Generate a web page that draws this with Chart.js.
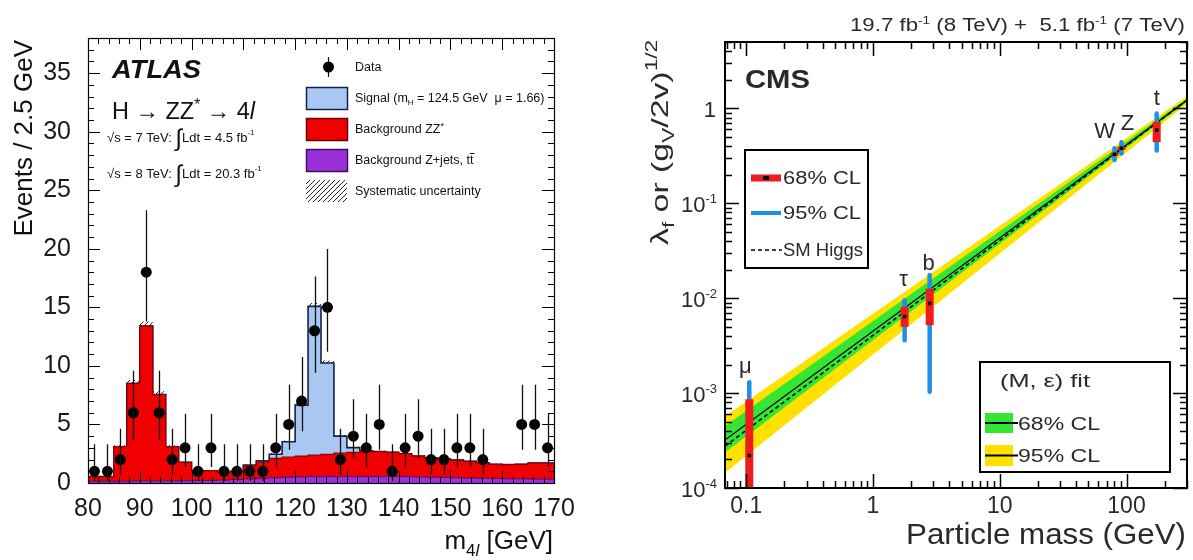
<!DOCTYPE html>
<html><head><meta charset="utf-8">
<script src="https://cdn.jsdelivr.net/npm/chart.js"></script>
<style>
html,body{margin:0;padding:0;background:#fff;width:1193px;height:560px;overflow:hidden;}
#l{position:absolute;left:0;top:0;width:600px;height:560px;}
#r{position:absolute;left:600px;top:0;width:593px;height:560px;}
canvas{display:block;}
</style></head><body>
<div id="l"><canvas id="cl" width="600" height="560"></canvas></div>
<div id="r"><canvas id="cr" width="593" height="560"></canvas></div>
<script>
const FONT = "'Liberation Sans', Arial, Helvetica, sans-serif";

// ================= LEFT PANEL DATA (ATLAS H -> ZZ* -> 4l) =================
const binLow = [80,82.5,85,87.5,90,92.5,95,97.5,100,102.5,105,107.5,110,112.5,115,117.5,120,122.5,125,127.5,130,132.5,135,137.5,140,142.5,145,147.5,150,152.5,155,157.5,160,162.5,165,167.5];
const binCenter = [81.25,83.75,86.25,88.75,91.25,93.75,96.25,98.75,101.25,103.75,106.25,108.75,111.25,113.75,116.25,118.75,121.25,123.75,126.25,128.75,131.25,133.75,136.25,138.75,141.25,143.75,146.25,148.75,151.25,153.75,156.25,158.75,161.25,163.75,166.25,168.75];
const massMax = 170;
const dataCounts = [1,1,2,6,18,6,2,3,1,3,1,1,1,1,3,5,7,13,15,2,4,3,5,1,3,4,2,2,3,3,2,null,null,5,5,3];
const dataLow  = [0.17,0.17,0.71,3.62,13.8,3.62,0.71,1.37,0.17,1.37,0.17,0.17,0.17,0.17,1.37,2.84,4.42,9.42,11.2,0.71,2.09,1.37,2.84,0.17,1.37,2.09,0.71,0.71,1.37,1.37,0.71,null,null,2.84,2.84,1.37];
const dataHigh = [3.3,3.3,4.64,9.58,23.3,9.58,4.64,5.92,3.3,5.92,3.3,3.3,3.3,3.3,5.92,8.38,10.77,17.64,19.99,4.64,7.16,5.92,8.38,3.3,5.92,7.16,4.64,4.64,5.92,5.92,4.64,null,null,8.38,8.38,5.92];
const bkgZjets = [0.15,0.15,0.15,0.17,0.18,0.18,0.18,0.2,0.2,0.22,0.25,0.3,0.35,0.4,0.45,0.5,0.52,0.55,0.55,0.55,0.55,0.55,0.55,0.55,0.55,0.52,0.5,0.48,0.45,0.42,0.4,0.38,0.36,0.35,0.34,0.33];
const bkgZZ = [0.40,0.40,2.95,8.33,13.22,7.37,2.92,1.57,0.85,0.83,0.65,0.70,1.13,1.37,1.65,1.72,1.78,1.83,1.90,2.00,2.07,2.11,2.13,2.07,1.95,1.78,1.65,1.57,1.50,1.43,1.32,1.22,1.21,1.25,1.36,1.37];
const signalH = [0,0,0,0,0,0,0,0,0,0,0,0,0.05,0.12,0.35,1.3,4.35,12.7,7.8,1.45,0.4,0.1,0,0,0,0,0,0,0,0,0,0,0,0,0,0];
const systUnc = [0.03,0.03,0.12,0.3,0.4,0.28,0.12,0.07,0.05,0.05,0.04,0.05,0.06,0.07,0.08,0.1,0.15,0.3,0.22,0.1,0.08,0.08,0.08,0.08,0.08,0.07,0.07,0.06,0.06,0.06,0.05,0.05,0.05,0.05,0.05,0.05];
const xTicksL = [80,90,100,110,120,130,140,150,160,170];
const yTicksL = [0,5,10,15,20,25,30,35];

// ================= RIGHT PANEL DATA (CMS couplings vs mass) =================
const particles    = ['\u03bc','\u03c4','b','W','Z','t'];
const particleMass = [0.1057, 1.777, 2.8, 80.4, 91.2, 173];
const coupling     = [2.2e-4, 6.4e-3, 8.8e-3, 0.328, 0.38, 0.59];
const cl68Lo = [5e-5, 5.0e-3, 5.2e-3, 0.315, 0.365, 0.44];
const cl68Hi = [8.6e-4, 8.1e-3, 1.26e-2, 0.34, 0.395, 0.72];
const cl95Lo = [1e-5, 3.6e-3, 1.03e-3, 0.285, 0.335, 0.36];
const cl95Hi = [1.3e-3, 9.5e-3, 1.75e-2, 0.38, 0.44, 0.88];
const bandMass = [0.068, 300];
const fitCentral = [3.2e-4, 1.22];
const fit68Lo = [2.36e-4, 1.17];
const fit68Hi = [4.5e-4, 1.27];
const fit95Lo = [1.45e-4, 1.11];
const fit95Hi = [5.7e-4, 1.34];
const smHiggs = [2.76e-4, 1.22];
const xTickValsR = [0.1, 1, 10, 100];
const xTickTextR = ['0.1', '1', '10', '100'];
const yTickValsR = [1e-4, 1e-3, 1e-2, 1e-1, 1];
const yTickExpR  = ['-4', '-3', '-2', '-1', null];

// label nudges (style only)
const labelNudge = [[-4,-9],[-1,-14],[-1,-5],[-10,-10],[6,-12],[0,-9]];

// ---------------- helpers ----------------
function rich(ctx, parts, x, y, align, targetW){
  let w = 0; const ws = [];
  for (const p of parts){ ctx.font = (p[3]||'') + ' ' + p[1] + 'px ' + (p[4]||FONT); const m = ctx.measureText(p[0]).width; ws.push(m); w += m; }
  const k = targetW ? targetW / w : 1;
  const tw = w * k;
  let sx = align === 'right' ? x - tw : (align === 'center' ? x - tw/2 : x);
  ctx.save(); ctx.translate(sx, y); ctx.scale(k, 1);
  ctx.textAlign = 'left'; ctx.textBaseline = 'alphabetic';
  let cx = 0;
  parts.forEach((p,i)=>{ ctx.font = (p[3]||'') + ' ' + p[1] + 'px ' + (p[4]||FONT); ctx.fillText(p[0], cx, (p[2]||0)); cx += ws[i]; });
  ctx.restore();
  return tw;
}

function ticksX(ctx, scale, a, vals, len){
  for (const v of vals){ const px = Math.round(scale.getPixelForValue(v)) + 0.5; if (px < a.left - 1 || px > a.right + 1) continue;
    ctx.moveTo(px, a.bottom); ctx.lineTo(px, a.bottom - len); ctx.moveTo(px, a.top); ctx.lineTo(px, a.top + len); }
}
function ticksY(ctx, scale, a, vals, len){
  for (const v of vals){ const py = Math.round(scale.getPixelForValue(v)) + 0.5; if (py < a.top - 1 || py > a.bottom + 1) continue;
    ctx.moveTo(a.left, py); ctx.lineTo(a.left + len, py); ctx.moveTo(a.right, py); ctx.lineTo(a.right - len, py); }
}

// hatch pattern
const hatchPattern = (function(){
  const c = document.createElement('canvas'); c.width = 5; c.height = 5;
  const g = c.getContext('2d'); g.strokeStyle = '#222'; g.lineWidth = 1;
  g.beginPath(); g.moveTo(-1,6); g.lineTo(6,-1); g.moveTo(-1,1); g.lineTo(1,-1); g.moveTo(4,6); g.lineTo(6,4); g.stroke();
  return c.getContext('2d').createPattern(c, 'repeat');
})();

// ================= LEFT CHART =================
const cumZjets = bkgZjets.slice();
const cumBkg = bkgZjets.map((v,i)=>v + bkgZZ[i]);
const cumSig = cumBkg.map((v,i)=>v + signalH[i]);
const systUp = cumSig.map((v,i)=>v + systUnc[i]);
const systDown = cumSig.map((v,i)=>v - systUnc[i]);
function stepPoints(vals){ const pts = binLow.map((x,i)=>({x:x, y:vals[i]})); pts.push({x:massMax, y:vals[vals.length-1]}); return pts; }
const dataPts = binCenter.map((x,i)=>({x:x, y:dataCounts[i]})).filter(p=>p.y !== null);

const leftDeco = {
  id: 'leftDeco',
  afterDatasetsDraw(chart){
    const {ctx, scales:{x, y}} = chart;
    ctx.save(); ctx.strokeStyle = '#111'; ctx.lineWidth = 1.3; ctx.beginPath();
    binCenter.forEach((c,i)=>{ if (dataCounts[i] === null) return; const px = Math.round(x.getPixelForValue(c)) + 0.5;
      ctx.moveTo(px, y.getPixelForValue(dataLow[i])); ctx.lineTo(px, y.getPixelForValue(dataHigh[i])); });
    ctx.stroke(); ctx.restore();
  },
  afterDraw(chart){
    const {ctx, chartArea:a, scales:{x, y}} = chart;
    ctx.save();
    ctx.strokeStyle = '#000'; ctx.lineWidth = 1.2;
    ctx.strokeRect(a.left + 0.5, a.top + 0.5, a.right - a.left, a.bottom - a.top);
    ctx.lineWidth = 1; ctx.beginPath();
    const xMinor = []; for (let v = 80; v <= 170; v += 2) if (v % 10 !== 0) xMinor.push(v);
    const yMinor = []; for (let v = 0; v <= 38; v += 1) if (v % 5 !== 0) yMinor.push(v);
    ticksX(ctx, x, a, xTicksL, 12); ticksX(ctx, x, a, xMinor, 6);
    ticksY(ctx, y, a, yTicksL, 12); ticksY(ctx, y, a, yMinor, 6);
    ctx.stroke();
    ctx.fillStyle = '#111';
    ctx.save(); ctx.translate(32, 40); ctx.rotate(-Math.PI/2);
    rich(ctx, [['Events / 2.5 GeV', 26]], 0, 0, 'right'); ctx.restore();
    rich(ctx, [['m', 26], ['4', 17, 7], ['l', 17, 7, 'italic'], [' [GeV]', 26]], 553, 549, 'right');
    rich(ctx, [['ATLAS', 25, 0, 'italic bold']], 112, 78, 'left', 89);
    rich(ctx, [['H \u2192 ZZ', 24], ['*', 16, -9], [' \u2192 4', 24], ['l', 24, 0, 'italic']], 112, 119, 'left', 143);
    rich(ctx, [['\u221as = 7 TeV: ', 13], ['\u222b', 24, 4], ['Ldt = 4.5 fb', 13], ['-1', 8, -7]], 107, 142, 'left');
    rich(ctx, [['\u221as = 8 TeV: ', 13], ['\u222b', 24, 4], ['Ldt = 20.3 fb', 13], ['-1', 8, -7]], 107, 178, 'left');
    // legend
    const lx = 306, lw = 41, lh = 22, tx = 355;
    ctx.strokeStyle = '#111'; ctx.lineWidth = 1.2; ctx.beginPath(); ctx.moveTo(328.5, 57); ctx.lineTo(328.5, 77); ctx.stroke();
    ctx.beginPath(); ctx.arc(328.5, 67, 5.5, 0, Math.PI*2); ctx.fillStyle = '#000'; ctx.fill();
    ctx.fillStyle = '#111'; rich(ctx, [['Data', 12.5]], tx, 71, 'left');
    const boxes = [[87, '#a8c8f2', '#15204f'], [118, '#f00000', '#6a0000'], [149, '#9b30d9', '#3c1060']];
    boxes.forEach(b=>{ ctx.fillStyle = b[1]; ctx.fillRect(lx, b[0], lw, lh); ctx.strokeStyle = b[2]; ctx.lineWidth = 1.5; ctx.strokeRect(lx + 0.5, b[0] + 0.5, lw, lh); });
    ctx.fillStyle = hatchPattern; ctx.fillRect(lx, 180, lw, lh);
    ctx.fillStyle = '#111';
    rich(ctx, [['Signal (m', 12.5], ['H', 8, 3], [' = 124.5 GeV  \u03bc = 1.66)', 12.5]], tx, 102, 'left');
    rich(ctx, [['Background ZZ', 12.5], ['*', 9, -4]], tx, 133, 'left');
    const w1 = rich(ctx, [['Background Z+jets, t', 12.5]], tx, 164, 'left');
    const w2 = rich(ctx, [['t', 12.5]], tx + w1, 164, 'left');
    ctx.strokeStyle = '#111'; ctx.lineWidth = 1; ctx.beginPath(); ctx.moveTo(tx + w1, 153.5); ctx.lineTo(tx + w1 + w2 + 1, 153.5); ctx.stroke();
    rich(ctx, [['Systematic uncertainty', 12.5]], tx, 195, 'left');
    ctx.restore();
  }
};

new Chart(document.getElementById('cl'), {
  type: 'line',
  data: { datasets: [
    { label: 'Data', data: dataPts, showLine: false, pointRadius: 5.5, pointBackgroundColor: '#000', pointBorderColor: '#000', pointBorderWidth: 0 },
    { label: 'Background Z+jets', data: stepPoints(cumZjets), stepped: true, fill: 'origin', backgroundColor: '#9b30d9', borderColor: '#4b1470', borderWidth: 1, pointRadius: 0 },
    { label: 'Background ZZ*', data: stepPoints(cumBkg), stepped: true, fill: 'origin', backgroundColor: '#f00000', borderColor: '#8a0000', borderWidth: 1.2, pointRadius: 0 },
    { label: 'Signal', data: stepPoints(cumSig), stepped: true, fill: 'origin', backgroundColor: '#a8c8f2', borderColor: '#15204f', borderWidth: 1.6, pointRadius: 0 },
    { label: 'Syst up', data: stepPoints(systUp), stepped: true, fill: 5, backgroundColor: hatchPattern, borderWidth: 0, pointRadius: 0 },
    { label: 'Syst down', data: stepPoints(systDown), stepped: true, fill: false, borderWidth: 0, pointRadius: 0 }
  ]},
  options: {
    responsive: false, animation: false, events: [], devicePixelRatio: 1,
    layout: { padding: { left: 0, top: 38, right: 46, bottom: 0 } },
    plugins: { legend: { display: false }, tooltip: { enabled: false } },
    scales: {
      x: { type: 'linear', min: 80, max: 170,
           afterBuildTicks: s => { s.ticks = xTicksL.map(v=>({value: v})); },
           afterFit: s => { s.height = 77; },
           grid: { display: false }, border: { display: false },
           ticks: { font: { size: 25, family: FONT }, color: '#1a1a1a', padding: 3, maxRotation: 0, autoSkip: false } },
      y: { type: 'linear', min: 0, max: 38,
           afterBuildTicks: s => { s.ticks = yTicksL.map(v=>({value: v})); },
           afterFit: s => { s.width = 88; },
           grid: { display: false }, border: { display: false },
           ticks: { font: { size: 25, family: FONT }, color: '#1a1a1a', padding: 9 } }
    }
  },
  plugins: [leftDeco]
});

// ================= RIGHT CHART =================
const pts = (xs, ys) => xs.map((x,i)=>({x:x, y:ys[i]}));
const rightDeco = {
  id: 'rightDeco',
  afterDatasetDraw(chart, args){
    if (args.index !== 1) return;
    const {ctx, chartArea:a, scales:{x, y}} = chart;
    ctx.save(); ctx.beginPath(); ctx.rect(a.left, a.top, a.right - a.left, a.bottom - a.top); ctx.clip();
    particleMass.forEach((m,i)=>{
      const px = x.getPixelForValue(m);
      ctx.strokeStyle = '#1e8fe8'; ctx.lineWidth = 4.5; ctx.lineCap = 'round';
      ctx.beginPath(); ctx.moveTo(px, y.getPixelForValue(cl95Lo[i])); ctx.lineTo(px, y.getPixelForValue(cl95Hi[i])); ctx.stroke();
      ctx.strokeStyle = '#ee1c1c'; ctx.lineWidth = 8; ctx.lineCap = 'butt';
      ctx.beginPath(); ctx.moveTo(px, y.getPixelForValue(cl68Lo[i])); ctx.lineTo(px, y.getPixelForValue(cl68Hi[i])); ctx.stroke();
    });
    ctx.restore();
  },
  afterDraw(chart){
    const {ctx, chartArea:a, scales:{x, y}} = chart;
    ctx.save();
    ctx.strokeStyle = '#000'; ctx.lineWidth = 2;
    ctx.strokeRect(a.left, a.top, a.right - a.left, a.bottom - a.top);
    ctx.lineWidth = 1.5; ctx.beginPath();
    const xMinor = []; for (let d = -2; d <= 2; d++) for (let k = 2; k <= 9; k++) xMinor.push(k * Math.pow(10, d));
    const yMinor = []; for (let d = -4; d <= 0; d++) for (let k = 2; k <= 9; k++) { const v = k * Math.pow(10, d); if (v <= 5) yMinor.push(v); }
    ticksX(ctx, x, a, xTickValsR, 14); ticksX(ctx, x, a, xMinor, 7);
    ticksY(ctx, y, a, yTickValsR, 14); ticksY(ctx, y, a, yMinor, 7);
    ctx.stroke();
    ctx.fillStyle = '#2a2a2a';
    yTickValsR.forEach((v,i)=>{
      const py = y.getPixelForValue(v);
      if (yTickExpR[i] === null) rich(ctx, [['1', 22]], a.left - 9, py + 9, 'right');
      else rich(ctx, [['10', 22], [yTickExpR[i], 13, -9]], a.left - 8, py + 9, 'right');
    });
    rich(ctx, [['Particle mass (GeV)', 29]], a.right - 1, 544, 'right', 280);
    rich(ctx, [['19.7 fb', 18], ['-1', 11, -7], [' (8 TeV) +  5.1 fb', 18], ['-1', 11, -7], [' (7 TeV)', 18]], 585, 31, 'right', 335);
    const yt = [['\u03bb', 24], ['f', 16, 6], [' or (g', 24], ['V', 16, 6], ['/2v)', 24], ['1/2', 16, -11]];
    ctx.save(); ctx.translate(68, 40); ctx.rotate(-Math.PI/2);
    rich(ctx, yt, 0, 0, 'right', 205); ctx.restore();
    rich(ctx, [['CMS', 26, 0, 'bold']], a.left + 20, 88, 'left', 65);
    particles.forEach((p,i)=>{
      const px = x.getPixelForValue(particleMass[i]) + labelNudge[i][0];
      const py = y.getPixelForValue(cl95Hi[i]) + labelNudge[i][1];
      rich(ctx, [[p, 22]], px, py, 'center');
    });
    // legend 1
    ctx.strokeStyle = '#000'; ctx.lineWidth = 2; ctx.strokeRect(145, 150, 123, 118);
    ctx.lineCap = 'butt';
    ctx.strokeStyle = '#ee1c1c'; ctx.lineWidth = 7; ctx.beginPath(); ctx.moveTo(151, 178); ctx.lineTo(181, 178); ctx.stroke();
    ctx.fillStyle = '#000'; ctx.fillRect(163, 176, 6, 4);
    ctx.strokeStyle = '#1e8fe8'; ctx.lineWidth = 4; ctx.beginPath(); ctx.moveTo(151, 213); ctx.lineTo(181, 213); ctx.stroke();
    ctx.strokeStyle = '#000'; ctx.lineWidth = 1.6; ctx.setLineDash([4,3]); ctx.beginPath(); ctx.moveTo(151, 250); ctx.lineTo(182, 250); ctx.stroke(); ctx.setLineDash([]);
    ctx.fillStyle = '#2a2a2a';
    rich(ctx, [['68% CL', 18]], 183, 184, 'left', 78);
    rich(ctx, [['95% CL', 18]], 183, 219, 'left', 78);
    rich(ctx, [['SM Higgs', 18]], 183, 256, 'left', 80);
    // legend 2
    ctx.strokeStyle = '#000'; ctx.lineWidth = 2; ctx.strokeRect(380, 362, 190, 110);
    rich(ctx, [['(M, \u03b5) fit', 18]], 400, 387, 'left', 90);
    ctx.fillStyle = '#33e633'; ctx.fillRect(385, 413, 28, 20);
    ctx.fillStyle = '#ffe100'; ctx.fillRect(385, 445, 28, 21);
    ctx.strokeStyle = '#000'; ctx.lineWidth = 2; ctx.beginPath();
    ctx.moveTo(385, 423); ctx.lineTo(418, 423); ctx.moveTo(385, 455.5); ctx.lineTo(418, 455.5); ctx.stroke();
    ctx.fillStyle = '#2a2a2a';
    rich(ctx, [['68% CL', 18]], 418, 430, 'left', 82);
    rich(ctx, [['95% CL', 18]], 418, 462, 'left', 82);
    ctx.restore();
  }
};

new Chart(document.getElementById('cr'), {
  type: 'line',
  data: { datasets: [
    { label: 'Measured', data: pts(particleMass, coupling), showLine: false, pointStyle: 'rect', pointRadius: 2.5, pointBackgroundColor: '#000', pointBorderColor: '#000', pointBorderWidth: 0 },
    { label: 'SM Higgs', data: pts(bandMass, smHiggs), borderColor: '#000', borderWidth: 1.6, borderDash: [4,3], pointRadius: 0, fill: false },
    { label: 'Fit', data: pts(bandMass, fitCentral), borderColor: '#000', borderWidth: 1.2, pointRadius: 0, fill: false },
    { label: '68% CL hi', data: pts(bandMass, fit68Hi), borderWidth: 0, pointRadius: 0, fill: 4, backgroundColor: '#33e633' },
    { label: '68% CL lo', data: pts(bandMass, fit68Lo), borderWidth: 0, pointRadius: 0, fill: false },
    { label: '95% CL hi', data: pts(bandMass, fit95Hi), borderWidth: 0, pointRadius: 0, fill: 6, backgroundColor: '#ffe100' },
    { label: '95% CL lo', data: pts(bandMass, fit95Lo), borderWidth: 0, pointRadius: 0, fill: false }
  ]},
  options: {
    responsive: false, animation: false, events: [], devicePixelRatio: 1,
    layout: { padding: { left: 0, top: 42, right: 6, bottom: 0 } },
    plugins: { legend: { display: false }, tooltip: { enabled: false } },
    scales: {
      x: { type: 'logarithmic', min: 0.068, max: 300,
           afterBuildTicks: s => { s.ticks = xTickValsR.map(v=>({value: v})); },
           afterFit: s => { s.height = 72; },
           grid: { display: false }, border: { display: false },
           ticks: { font: { size: 23, family: FONT }, color: '#2a2a2a', padding: -3, maxRotation: 0, autoSkip: false,
                    callback: (v, i) => xTickTextR[i] } },
      y: { type: 'logarithmic', min: 1e-4, max: 5,
           afterFit: s => { s.width = 125; },
           grid: { display: false }, border: { display: false },
           ticks: { display: false } }
    }
  },
  plugins: [rightDeco]
});
</script></body></html>
